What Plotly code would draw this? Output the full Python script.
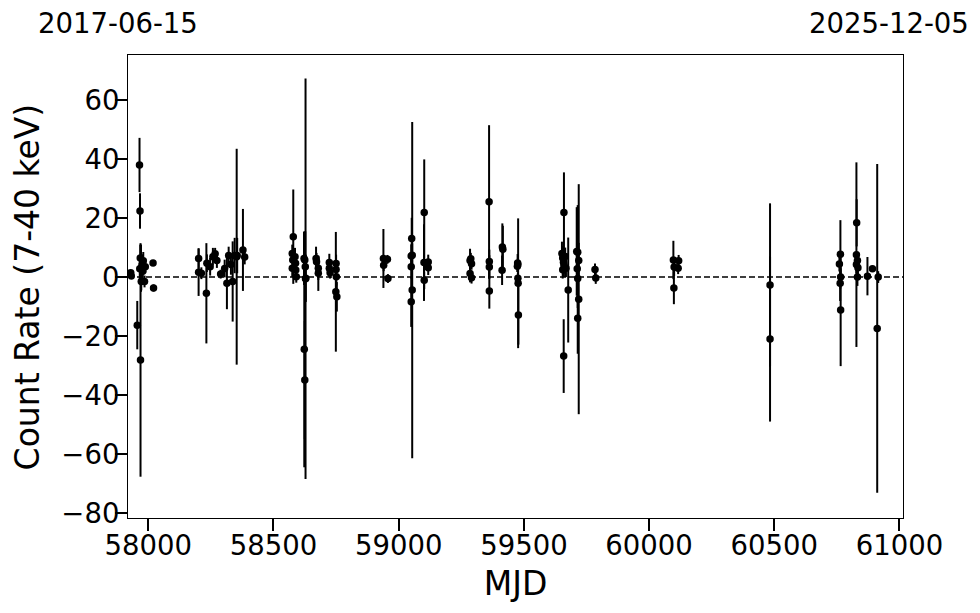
import plotly.graph_objects as go

# ---- data ----
mjd = [
    57930, 57932, 57956, 57965, 57967, 57969, 57966, 57968, 57971, 57972,
    57975, 57978, 57980, 57985, 57988, 58019, 58021,
    58201, 58201, 58212, 58232, 58234, 58247, 58258, 58267, 58274, 58289,
    58305, 58314, 58321, 58330, 58337, 58345, 58353, 58355, 58378, 58385,
    58579, 58575, 58577, 58575, 58586, 58588, 58589, 58591, 58622, 58625,
    58627, 58629, 58623, 58625, 58628, 58670, 58672, 58679, 58679, 58723,
    58723, 58726, 58750, 58750, 58751, 58749, 58753,
    58939, 58940, 58955, 58957,
    59052, 59050, 59054, 59050, 59054, 59050, 59102, 59101, 59102, 59118,
    59118,
    59285, 59288, 59291, 59285, 59291, 59361, 59362, 59362, 59362, 59414,
    59413, 59416, 59475, 59476, 59474, 59476, 59477, 59478,
    59660, 59652, 59655, 59658, 59660, 59665, 59668, 59655, 59677, 59659,
    59711, 59715, 59719, 59713, 59715, 59719, 59715, 59784, 59787,
    60097, 60099, 60100, 60118, 60116,
    60483, 60483,
    60760, 60764, 60765, 60763, 60765, 60829, 60828, 60832, 60828, 60834,
    60832, 60872, 60892, 60911, 60915,
]
rate = [
    1.5, 0.4, -16.3, 38.0, 22.4, -28.1, 2.8, 6.5, 3.0, -1.5,
    4.2, 2.0, 5.5, -1.5, 3.5, 4.8, -3.7,
    6.3, 1.6, 1.3, -5.5, 4.7, 3.5, 6.9, 7.9, 5.6, 1.0,
    2.9, -2.1, 7.3, 4.3, -1.5, 7.3, 6.9, 7.3, 9.2, 6.8,
    13.7, 8.0, 5.8, 3.0, 6.9, 4.7, 2.4, 0.1, 6.3, 5.8,
    3.5, -0.4, -24.5, -34.9, -0.6, 6.3, 5.2, 3.0, 1.3, 4.9,
    3.0, 1.5, 4.6, 2.6, 0.1, -5.0, -6.7,
    6.3, 4.0, 6.0, -0.5,
    13.1, 7.1, 7.4, 3.5, -4.4, -8.4, 21.9, 4.9, -1.1, 5.1,
    3.2,
    5.6, 6.2, 4.5, 1.2, -0.2, 25.5, 5.3, 3.4, -4.7, 10.2,
    2.3, 9.4, 4.8, 4.3, 3.7, -0.4, -2.1, -12.9,
    21.9, 8.0, 6.5, 5.0, 4.0, 7.0, 3.0, 2.5, -4.4, -26.8,
    8.7, 8.4, 5.6, 2.8, -0.5, -7.5, -14.0, 2.6, -0.3,
    5.8, -3.7, 3.4, 5.5, 3.0,
    -2.7, -21.0,
    4.4, 7.7, 0.0, -2.1, -11.2, 18.4, 7.6, 5.6, 4.3, 3.2,
    0.0, 0.3, 2.8, -17.4, 0.0,
]
err = [
    0.8, 0.8, 8.2, 9.2, 6.0, 39.6, 4.0, 4.5, 8.0, 3.0,
    3.5, 3.0, 3.0, 2.0, 2.0, 1.0, 1.2,
    3.5, 8.0, 2.0, 17.0, 3.0, 3.0, 3.0, 2.0, 2.5, 1.5,
    3.0, 8.8, 3.0, 3.5, 13.6, 6.0, 36.6, 6.0, 13.9, 2.5,
    16.0, 3.0, 3.0, 3.0, 3.0, 3.0, 3.0, 2.0, 9.0, 4.0,
    12.0, 8.0, 40.0, 20.0, 67.9, 4.0, 3.0, 4.0, 6.0, 3.0,
    3.0, 2.0, 3.0, 3.0, 3.0, 20.3, 5.0,
    10.0, 2.0, 1.5, 1.5,
    7.0, 4.0, 4.0, 4.0, 57.0, 8.5, 18.0, 13.0, 3.0, 2.5,
    2.5,
    4.0, 2.0, 2.0, 3.0, 2.0, 26.0, 4.0, 4.0, 6.0, 8.0,
    5.0, 8.0, 3.0, 2.0, 2.0, 2.0, 22.0, 10.0,
    13.6, 4.0, 4.0, 4.0, 4.0, 3.0, 3.0, 3.0, 17.8, 12.5,
    15.0, 16.0, 6.0, 6.0, 10.0, 39.0, 12.0, 2.0, 2.0,
    6.5, 5.5, 3.0, 2.0, 2.0,
    27.7, 28.0,
    2.5, 11.6, 3.0, 6.0, 19.0, 8.0, 31.3, 3.0, 3.0, 3.0,
    3.0, 6.5, 1.0, 55.7, 2.0,
]

xticks = [58000, 58500, 59000, 59500, 60000, 60500, 61000]
yticks = [-80, -60, -40, -20, 0, 20, 40, 60]
xlim = [57919, 61014]          # 2017-06-15 .. 2025-12-05
ylim = [-81.7, 75.3]
date_labels = ["2017-06-15", "2025-12-05"]
x_title = "MJD"
y_title = "Count Rate (7-40 keV)"

FONT = "DejaVu Sans"

fig = go.Figure()

# dashed zero line
fig.add_trace(go.Scatter(
    x=xlim, y=[0, 0], mode="lines",
    line=dict(color="black", width=1.5, dash="6px,3px"),
    hoverinfo="skip", showlegend=False,
))

fig.add_trace(go.Scatter(
    x=mjd, y=rate, mode="markers",
    marker=dict(color="black", size=7.5),
    error_y=dict(type="data", array=err, visible=True,
                 color="black", thickness=2, width=0),
    showlegend=False,
))

for lbl, xp in zip(date_labels, [-0.0129, 0.982]):
    fig.add_annotation(text=lbl, xref="paper", yref="paper",
                       x=xp, y=1.069, xanchor="center", yanchor="middle",
                       showarrow=False,
                       font=dict(family=FONT, size=27.5, color="black"))

# y-axis title placed precisely
fig.add_annotation(text=y_title, xref="paper", yref="paper",
                   x=-0.1285, y=0.499, xanchor="center", yanchor="middle",
                   textangle=-90, showarrow=False,
                   font=dict(family=FONT, size=33, color="black"))

axis_common = dict(
    showline=True, linecolor="black", linewidth=1.2, mirror=True,
    ticks="outside", ticklen=12, tickwidth=2, tickcolor="black",
    showgrid=False, zeroline=False, automargin=False,
    tickfont=dict(family=FONT, size=27.5, color="black"),
)

fig.update_layout(
    width=980, height=613,
    paper_bgcolor="white", plot_bgcolor="white",
    margin=dict(l=120, r=85, t=47, b=103),
    xaxis=dict(range=xlim, tickvals=xticks, tickformat="d", ticklabelstandoff=-9,
               title=dict(text=x_title, font=dict(family=FONT, size=33, color="black"), standoff=11),
               **axis_common),
    yaxis=dict(range=ylim, tickvals=yticks, ticklabelstandoff=-10,
               **axis_common),
    font=dict(family=FONT, color="black"),
)

fig.write_html("out.html")
